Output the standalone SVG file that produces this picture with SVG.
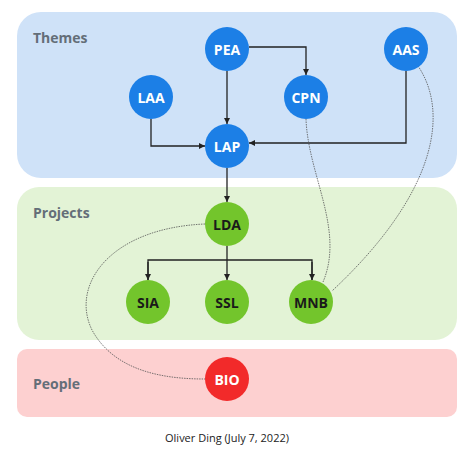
<svg xmlns="http://www.w3.org/2000/svg" width="474" height="451" viewBox="0 0 474 451">
<style>
.lane-label{font-family:"Open Sans","Liberation Sans",sans-serif;font-weight:700;font-size:14px;fill:#646e78}
.nt{font-family:"Open Sans","Liberation Sans",sans-serif;font-weight:700;font-size:14px;text-anchor:middle;dominant-baseline:central}
.blue circle{fill:#1c7fe6}
.blue text{fill:#ffffff}
.green circle{fill:#73c52c}
.green text{fill:#1a1a1a}
.red circle{fill:#f22a2a}
.red text{fill:#ffffff}
.edge{fill:none;stroke:#222;stroke-width:1.3}
.dot{fill:none;stroke:#555;stroke-width:0.8;stroke-dasharray:1.5 1}
</style>
<defs>
<marker id="ah" viewBox="0 0 10 10" refX="10" refY="5" markerWidth="6" markerHeight="6" orient="auto" markerUnits="userSpaceOnUse">
<path d="M0,0 L10,5 L0,10 z" fill="#222"/>
</marker>
</defs>
<rect width="474" height="451" fill="#ffffff"/>
<g id="lanes">
<rect x="17" y="12" width="440" height="166" rx="24" fill="#cfe2f8"/>
<rect x="17" y="187" width="440" height="153" rx="22" fill="#e3f3d6"/>
<rect x="17" y="349" width="440" height="68" rx="10" fill="#fdd0d0"/>
<text class="lane-label" x="33" y="43">Themes</text>
<text class="lane-label" x="33" y="218">Projects</text>
<text class="lane-label" x="33" y="389">People</text>
</g>
<g id="connectors">
<path class="edge" d="M249,47 H306 V75" marker-end="url(#ah)"/>
<path class="edge" d="M227,71 V124" marker-end="url(#ah)"/>
<path class="edge" d="M151,119 V146 H205" marker-end="url(#ah)"/>
<path class="edge" d="M406,71 V143 H249" marker-end="url(#ah)"/>
<path class="edge" d="M227,168 V202" marker-end="url(#ah)"/>
<path class="edge" d="M227,246 V280" marker-end="url(#ah)"/>
<path class="edge" d="M148,280 V260 H312 V280" marker-start="none"/>
<path class="edge" d="M148,262 V280" marker-end="url(#ah)"/>
<path class="edge" d="M312,262 V280" marker-end="url(#ah)"/>
<path class="dot" d="M306,119 C308,175 345,230 323,282"/>
<path class="dot" d="M418,66 C448,110 440,190 332,291"/>
<path class="dot" d="M205,224 C110,228 70,285 92,330 C115,372 165,379 205,379"/>
</g>
<g id="PEA" class="blue"><circle cx="227" cy="49" r="22"/><text class="nt" x="227" y="49">PEA</text></g>
<g id="AAS" class="blue"><circle cx="406" cy="49" r="22"/><text class="nt" x="406" y="49">AAS</text></g>
<g id="LAA" class="blue"><circle cx="151" cy="97" r="22"/><text class="nt" x="151" y="97">LAA</text></g>
<g id="CPN" class="blue"><circle cx="306" cy="97" r="22"/><text class="nt" x="306" y="97">CPN</text></g>
<g id="LAP" class="blue"><circle cx="227" cy="146" r="22"/><text class="nt" x="227" y="146">LAP</text></g>
<g id="LDA" class="green"><circle cx="227" cy="224" r="22"/><text class="nt" x="227" y="224">LDA</text></g>
<g id="SIA" class="green"><circle cx="148" cy="302" r="22"/><text class="nt" x="148" y="302">SIA</text></g>
<g id="SSL" class="green"><circle cx="227" cy="302" r="22"/><text class="nt" x="227" y="302">SSL</text></g>
<g id="MNB" class="green"><circle cx="311" cy="302" r="22"/><text class="nt" x="311" y="302">MNB</text></g>
<g id="BIO" class="red"><circle cx="227" cy="379" r="22"/><text class="nt" x="227" y="379">BIO</text></g>
<text x="227" y="442" text-anchor="middle" font-family="'Open Sans','Liberation Sans',sans-serif" font-size="11" fill="#222">Oliver Ding (July 7, 2022)</text>
</svg>
